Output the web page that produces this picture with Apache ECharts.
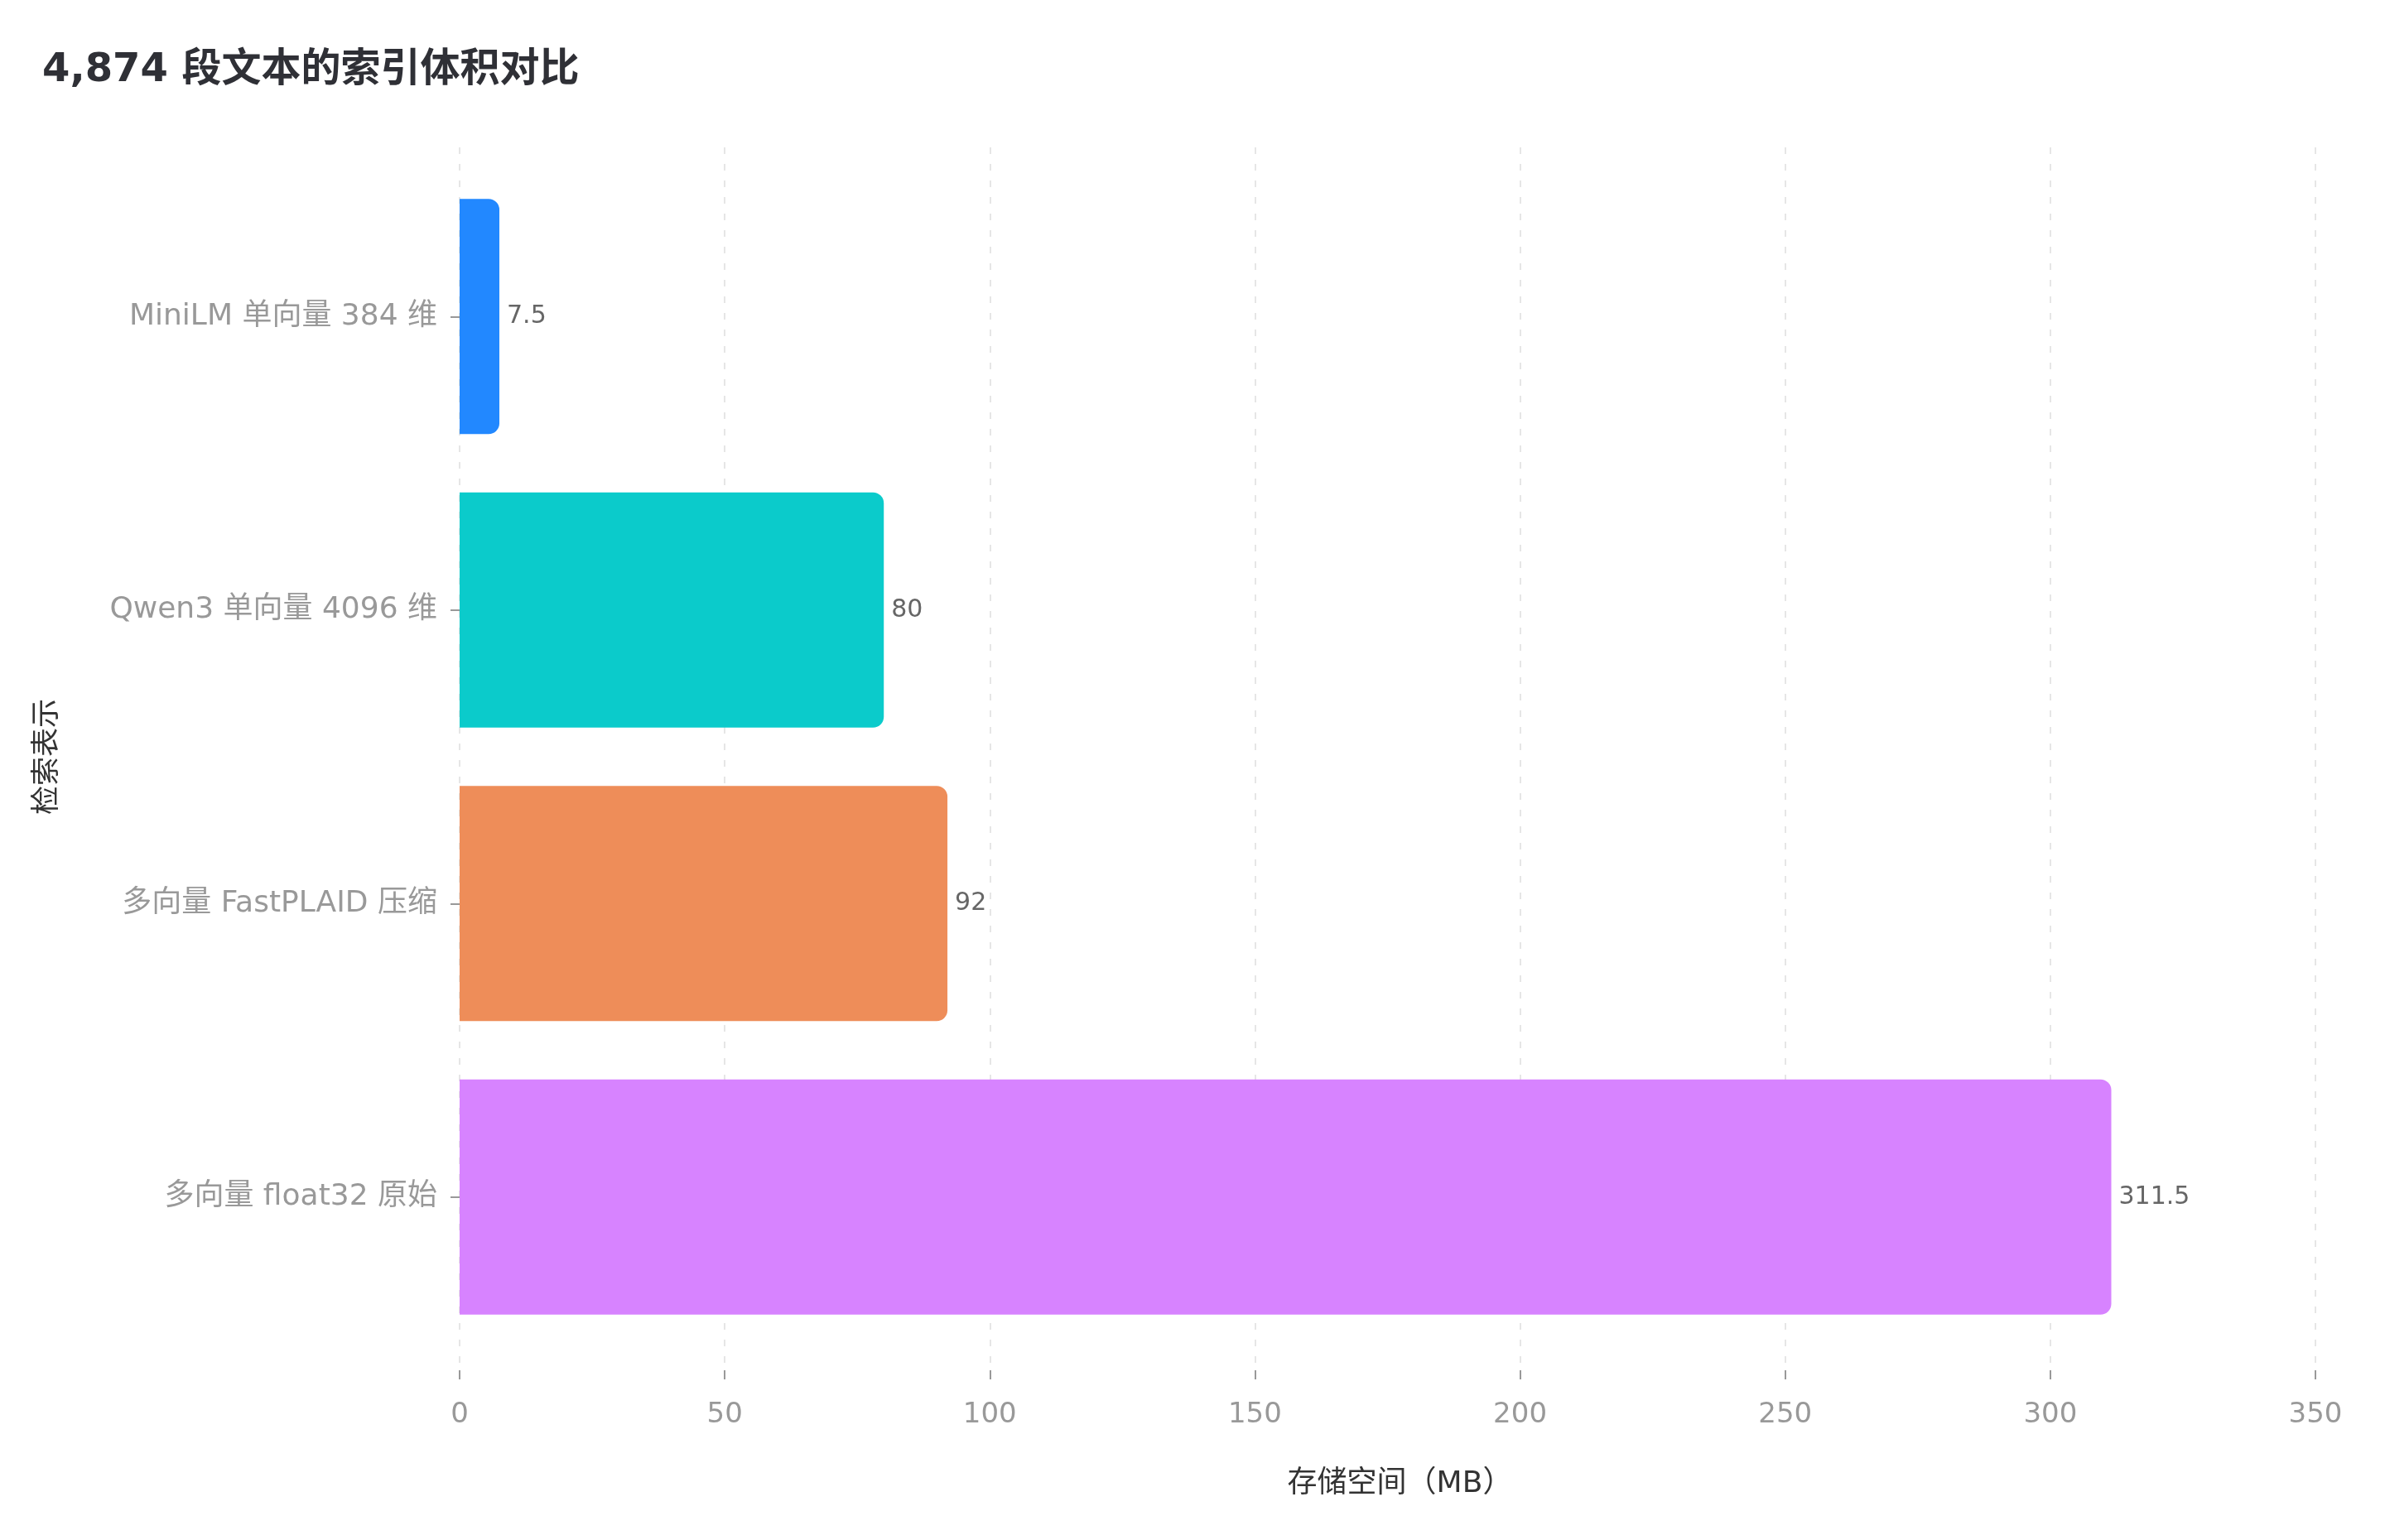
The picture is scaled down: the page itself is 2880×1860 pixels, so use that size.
<!DOCTYPE html>
<html>
<head>
<meta charset="utf-8">
<script src="https://cdn.jsdelivr.net/npm/echarts@6/dist/echarts.min.js"></script>
<style>
html,body{margin:0;padding:0;background:#fff;}
#chart{width:2880px;height:1860px;}
</style>
</head>
<body>
<div id="chart"></div>
<script>
var titleText = '4,874 段文本的索引体积对比';
var categories = ['MiniLM 单向量 384 维', 'Qwen3 单向量 4096 维', '多向量 FastPLAID 压缩', '多向量 float32 原始'];
var values = [7.5, 80, 92, 311.5];
var barColors = ['#2288ff', '#0bcbcb', '#ee8d59', '#d783ff'];
var xTicks = [0, 50, 100, 150, 200, 250, 300, 350];
var xName = '存储空间（MB）';
var yName = '检索表示';

var FONT = '"DejaVu Sans", "Noto Sans CJK SC", sans-serif';
var chart = echarts.init(document.getElementById('chart'), null, {renderer: 'canvas'});
var xMin = xTicks[0], xMax = xTicks[xTicks.length - 1], xStep = xTicks[1] - xTicks[0];

chart.setOption({
  backgroundColor: '#ffffff',
  animation: false,
  title: {
    text: titleText,
    left: 46,
    top: 57,
    textStyle: {fontFamily: FONT, fontSize: 48, fontWeight: 'bold', color: '#2f3036'}
  },
  grid: [
    {left: 555, right: 84, top: 178, bottom: 205, outerBoundsMode: 'none', containLabel: false},
    {left: 555, right: 84, top: 205, bottom: 237, outerBoundsMode: 'none', containLabel: false}
  ],
  xAxis: [
    {
      gridIndex: 0, type: 'value', min: xMin, max: xMax, interval: xStep,
      name: xName, nameLocation: 'middle', nameGap: 120,
      nameTextStyle: {fontFamily: FONT, fontSize: 36, color: '#333333', padding: [0, 0, 0, 30]},
      axisLine: {show: false},
      axisTick: {show: true, length: 11, lineStyle: {color: '#999999', width: 2}},
      axisLabel: {fontFamily: FONT, fontSize: 34, color: '#999999', margin: 37},
      splitLine: {show: true, lineStyle: {color: '#e6e6e6', width: 2, type: [8, 12]}}
    },
    {
      gridIndex: 1, type: 'value', min: xMin, max: xMax, interval: xStep, show: false,
      splitLine: {show: false}
    }
  ],
  yAxis: [
    {gridIndex: 0, type: 'value', show: false, min: 0, max: 1, splitLine: {show: false}},
    {
      gridIndex: 1, type: 'category', data: categories, inverse: true,
      name: yName, nameLocation: 'middle', nameGap: 480, nameRotate: 90,
      nameTextStyle: {fontFamily: FONT, fontSize: 35, color: '#333333'},
      axisLine: {show: false},
      axisTick: {show: true, length: 11, alignWithLabel: true, lineStyle: {color: '#999999', width: 2}},
      axisLabel: {fontFamily: FONT, fontSize: 36, color: '#999999', margin: 27},
      splitLine: {show: false}
    }
  ],
  series: [{
    type: 'bar',
    xAxisIndex: 1,
    yAxisIndex: 1,
    barWidth: 284,
    data: values.map(function (v, i) {
      return {value: v, itemStyle: {color: barColors[i], borderRadius: [0, 13, 13, 0]}};
    }),
    label: {
      show: true, position: 'right', distance: 9,
      fontFamily: FONT, fontSize: 30, color: '#666666'
    }
  }]
});
</script>
</body>
</html>
